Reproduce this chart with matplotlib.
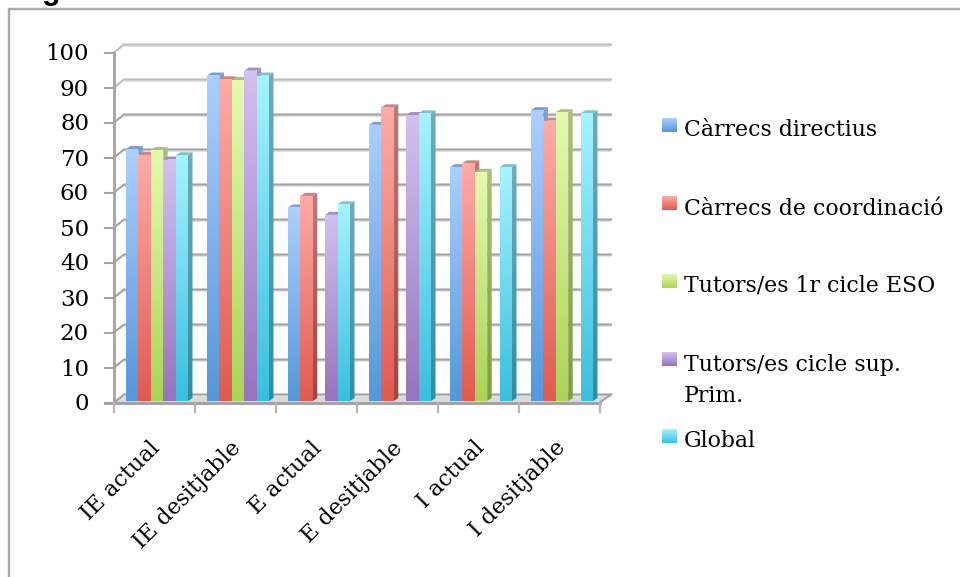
import numpy as np
import matplotlib
matplotlib.use("Agg")
import matplotlib.pyplot as plt
from matplotlib.colors import to_rgb
from matplotlib.patches import Polygon
from matplotlib.transforms import Affine2D

plt.rcParams.update({
    "font.family": ["DejaVu Serif"],
    "font.size": 16,
})

categories = ["IE actual", "IE desitjable", "E actual", "E desitjable", "I actual", "I desitjable"]
series_names = ["Càrrecs directius", "Càrrecs de coordinació", "Tutors/es 1r cicle ESO",
                "Tutors/es cicle sup.\nPrim.", "Global"]

carrecs_directius = [72, 93, 55.3, 78.9, 66.8, 83.1]
carrecs_coordinacio = [70.3, 91.9, 58.6, 83.9, 67.9, 80.1]
tutors_eso = [71.7, 91.7, None, None, 65.5, 82.5]
tutors_prim = [69, 94.4, 53.2, 81.7, None, None]
global_vals = [70.2, 93, 56.2, 82.2, 66.8, 82.2]
all_series = [carrecs_directius, carrecs_coordinacio, tutors_eso, tutors_prim, global_vals]
y_ticks = list(range(0, 101, 10))

# (front top, front bottom, side top, side bottom, cap)
palette = [
    ("#ABCFFF", "#5597DB", "#7F9FCB", "#3F77B3", "#7E9FCC"),
    ("#FFABA7", "#DF5B51", "#B97C7A", "#A4443F", "#C98682"),
    ("#E4FAAE", "#ACD359", "#ABBF80", "#7F9C3E", "#AABF7E"),
    ("#D2C0F0", "#9674BE", "#A391BC", "#775A98", "#A08FC0"),
    ("#A5F3FF", "#3BBFDE", "#70ABB9", "#2C8FA6", "#7FC0CC"),
]

GRID = "#A3A3A3"
PX_X = 1 / 81    # data units per pixel, x
PX_Y = 1 / 3.5   # data units per pixel, y
BAR_W = 12.4 * PX_X
BAR_GAP = 12 * PX_X
DEPTH_X, DEPTH_Y = 4.5 * PX_X, 3 * PX_Y
WALL_X, WALL_Y = 10 * PX_X, 8 * PX_Y

W, H = 960, 577
fig = plt.figure(figsize=(W / 100, H / 100), dpi=100)

# overlay in pixel coordinates for the frame and the legend
page = fig.add_axes([0, 0, 1, 1], zorder=0)
page.set_xlim(0, W)
page.set_ylim(H, 0)
page.axis("off")

ax = fig.add_axes([114 / W, 1 - 402.5 / H, 486 / W, 350 / H], zorder=1)
ax.patch.set_alpha(0)
for s in ax.spines.values():
    s.set_visible(False)


def gradient(axis, corners, c_top, c_bot, zorder, transform=None):
    corners = np.array(corners)
    ramp = np.linspace(to_rgb(c_top), to_rgb(c_bot), 64)[:, None, :]
    ext = (corners[:, 0].min(), corners[:, 0].max(), corners[:, 1].min(), corners[:, 1].max())
    origin = "upper" if axis is ax else "lower"
    im = axis.imshow(ramp, extent=ext, aspect="auto", origin=origin, zorder=zorder,
                     interpolation="bilinear")
    tr = axis.transData if transform is None else transform
    im.set_transform(tr)
    im.set_clip_path(Polygon(corners, transform=tr))


# floor and walls
ax.add_patch(Polygon([(0, 0), (WALL_X, WALL_Y), (6 + 11 * PX_X, WALL_Y), (6, 0)],
                     fc="#DADADA", ec="none", zorder=1, clip_on=False))
for v in y_ticks:
    col = "#BDBDBD" if v >= 90 else GRID
    ax.plot([WALL_X, 6 + 11 * PX_X], [v + WALL_Y - 0.55] * 2, color="#E2E2E2", lw=1.4, zorder=1,
            clip_on=False, solid_capstyle="butt")
    ax.plot([0, WALL_X, 6 + 11 * PX_X], [v, v + WALL_Y, v + WALL_Y], color=col, lw=1.5, zorder=2,
            clip_on=False, solid_joinstyle="miter")
    ax.plot([-9 * PX_X, 0], [v, v], color=GRID, lw=1.5, zorder=2, clip_on=False)
ax.plot([6, 6 + 11 * PX_X], [0, WALL_Y], color=GRID, lw=1.5, zorder=2, clip_on=False)
ax.plot([0, 0], [0, 100], color=GRID, lw=2, zorder=3, clip_on=False)
ax.plot([-9 * PX_X, 6], [0, 0], color=GRID, lw=2.2, zorder=3, clip_on=False)
for i in range(7):
    ax.plot([i, i], [0, -9 * PX_Y], color="#B5B5B5", lw=1.6, zorder=3, clip_on=False)

# bars sit slightly above the floor edge (shift in pixels)
bar_tr = ax.transData + Affine2D().translate(0, 1.5)
z = 4
for s, values in enumerate(all_series):
    front_top, front_bot, side_top, side_bot, cap = palette[s]
    for g, v in enumerate(values):
        if v is None:
            continue
        x0 = g + BAR_GAP + s * BAR_W
        x1 = x0 + BAR_W
        side = [(x1, 0), (x1 + DEPTH_X, DEPTH_Y), (x1 + DEPTH_X, v + DEPTH_Y), (x1, v)]
        gradient(ax, side, side_top, side_bot, z, bar_tr)
        ax.add_patch(Polygon([(x0, v), (x0 + DEPTH_X, v + DEPTH_Y), (x1 + DEPTH_X, v + DEPTH_Y), (x1, v)],
                             fc=cap, ec="none", zorder=z + 0.1, clip_on=False, transform=bar_tr))
        gradient(ax, [(x0, 0), (x1, 0), (x1, v), (x0, v)], front_top, front_bot, z + 0.2, bar_tr)
    z += 1

ax.set_xlim(0, 6)
ax.set_ylim(0, 100)
ax.set_xticks([])
ax.set_yticks([])

for v in y_ticks:
    page.text(89, 410.5 - v * 3.5, str(v), ha="right", va="baseline", fontsize=16.5, color="black")

for g, label in enumerate(categories):
    page.text(149 + 81 * g, 437, label, rotation=45, ha="right", va="top",
              rotation_mode="anchor", fontsize=16, color="black")

# legend rows are unevenly spaced because of the wrapped entry
legend_tops = [118, 196, 274, 352, 429]
legend_base = [136, 215, 292, 402, 447]
for s, name in enumerate(series_names):
    top = legend_tops[s]
    gradient(page, [(662, top), (677, top), (677, top + 14), (662, top + 14)],
             palette[s][0], palette[s][1], 2)
    page.text(684, legend_base[s], name, ha="left", va="baseline", fontsize=15.8, color="black",
              linespacing=1.55)
page.set_xlim(0, W)
page.set_ylim(H, 0)

# frame
page.plot([8.5, 8.5, W], [577, 8.5, 8.5], color="#AAAAAA", lw=1.7, solid_joinstyle="miter")
page.text(15, -1.5, "Fig", ha="left", va="baseline", fontsize=22, fontweight="bold",
          family=["Liberation Sans"], color="black", clip_on=False)
page.set_xlim(0, W)
page.set_ylim(H, 0)

fig.savefig("out.png", dpi=100)
